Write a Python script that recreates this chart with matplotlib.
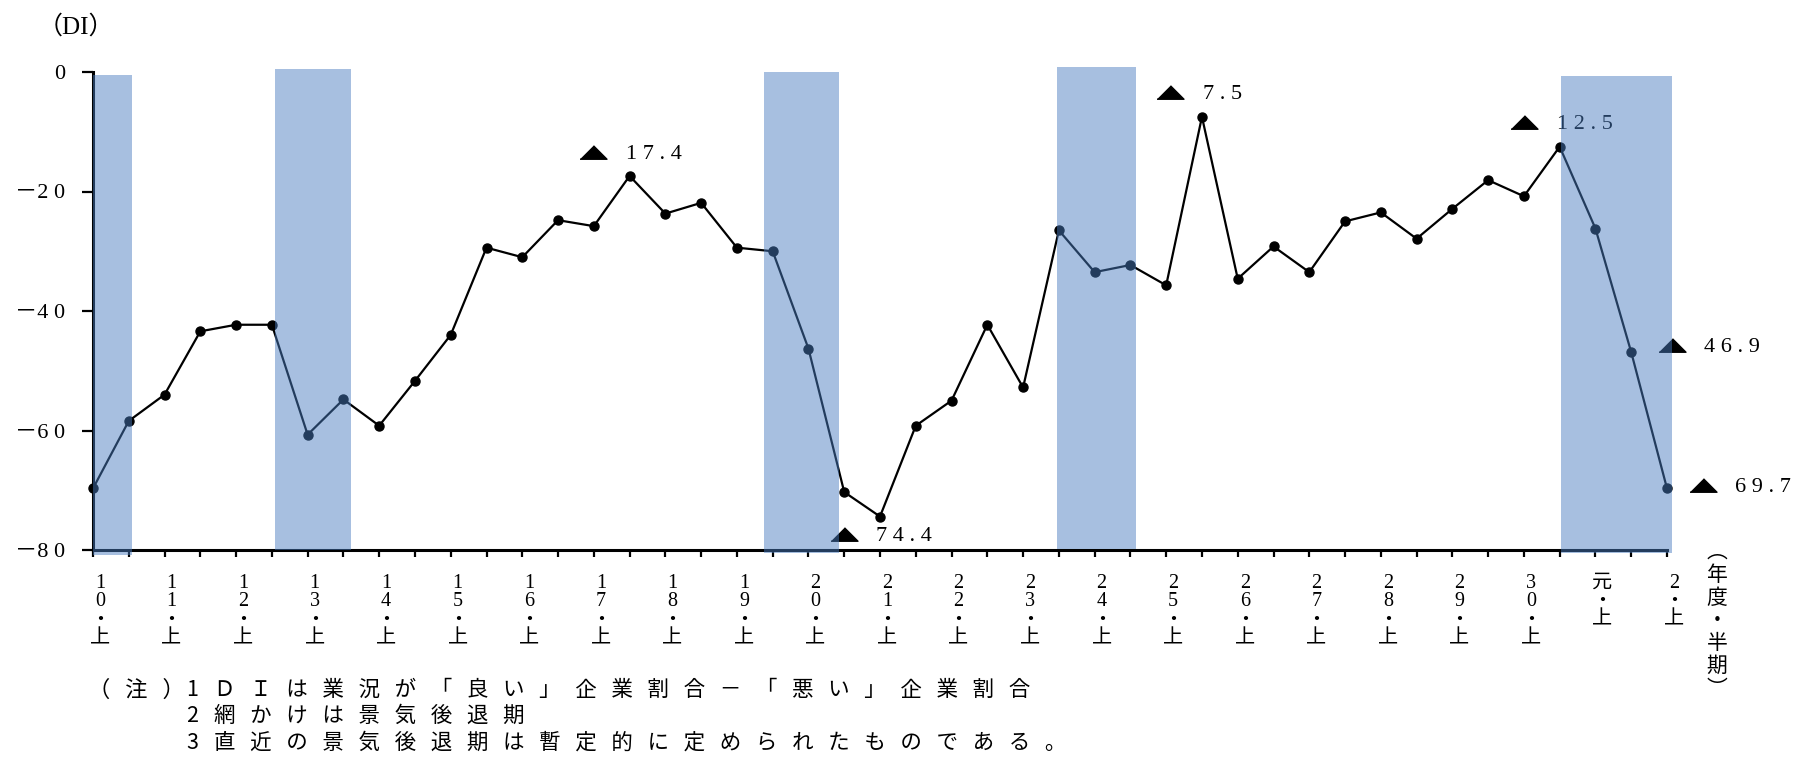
import numpy as np
import matplotlib
matplotlib.use("Agg")
import matplotlib.pyplot as plt
from matplotlib.transforms import ScaledTranslation

plt.rcParams['font.family'] = ['Noto Sans CJK JP', 'DejaVu Sans']
SERIF = ['Liberation Serif', 'Noto Sans CJK JP', 'DejaVu Sans']

# 年度（平成10年度～令和2年度）と半期
years = ["10", "11", "12", "13", "14", "15", "16", "17", "18", "19", "20",
         "21", "22", "23", "24", "25", "26", "27", "28", "29", "30", "元", "2"]
halves = ["上", "下"]

# 業況判断DI（上期・下期）
di = [-69.7, -58.4, -54.0, -43.4, -42.3, -42.3, -60.7, -54.8, -59.2, -51.7,
      -44.0, -29.4, -31.0, -24.8, -25.8, -17.4, -23.7, -21.9, -29.4, -30.0,
      -46.3, -70.3, -74.4, -59.2, -55.0, -42.3, -52.8, -26.5, -33.5, -32.3,
      -35.7, -7.5, -34.6, -29.2, -33.5, -25.0, -23.5, -27.9, -22.9, -18.1,
      -20.8, -12.5, -26.2, -46.9, -69.7]

# 景気後退期（半期単位の位置）
recessions = [(0.0, 1.1), (5.1, 7.2), (18.75, 20.85), (26.95, 29.15), (41.05, 44.15)]
recession_tops = [-0.5, 0.5, 0.0, 0.8, -0.7]
recession_bottoms = [-80.8, -80.0, -80.5, -79.8, -80.5]

# 数値を表示する点と、▲の中心のずれ（px）
labelled = [15, 22, 31, 41, 43, 44]
label_offsets = [(-36.5, 24), (-36.5, -17), (-31.5, 24.5), (-35.5, 25), (40.5, 7.5), (35.5, 3)]

notes = [("1", "ＤＩは業況が「良い」企業割合－「悪い」企業割合"),
         ("2", "網かけは景気後退期"),
         ("3", "直近の景気後退期は暫定的に定められたものである。")]


def spaced(s, gap=" "):
    return gap.join(s)


periods = [(y, h) for y in years for h in halves][:len(di)]
x = np.arange(len(di))

fig = plt.figure(figsize=(18, 7.63), dpi=100)
ax = fig.add_axes([93 / 1800, 1 - 550 / 763, 1574 / 1800, 478 / 763])

ax.plot(x, di, color='black', lw=1.6, marker='o', ms=6.5, zorder=3, clip_on=False)

for (x0, x1), top, bot in zip(recessions, recession_tops, recession_bottoms):
    ax.fill_between([x0, x1], bot, top, color='#4a7dc1', alpha=0.486, lw=0,
                    zorder=5, clip_on=False)

# ▲付きの数値ラベル
tri = [(-1, -0.5), (1, -0.5), (0, 0.5)]
for i, (dx, dy) in zip(labelled, label_offsets):
    tr = ax.transData + ScaledTranslation(dx / 100, dy / 100, fig.dpi_scale_trans)
    ax.plot([x[i]], [di[i]], ls='none', marker=tri, ms=19.4, color='black',
            transform=tr, clip_on=False, zorder=4)
    ax.annotate(spaced(f"{abs(di[i]):.1f}"), xy=(x[i], di[i]),
                xytext=((dx + 32.5) * 0.72, (dy - 7) * 0.72), textcoords='offset points',
                ha='left', va='baseline', fontsize=16, family=SERIF,
                zorder=4, annotation_clip=False)

ax.set_xlim(0, len(di) - 1)
ax.set_ylim(-80, 0)
for side in ['top', 'right']:
    ax.spines[side].set_visible(False)
for side in ['left', 'bottom']:
    ax.spines[side].set_linewidth(2.2)

yt = np.arange(-80, 1, 20)
ax.set_yticks(yt)
ax.set_yticklabels(["－" + spaced(str(abs(v))) if v < 0 else "0" for v in yt],
                   fontsize=16, family=SERIF)
ax.tick_params(axis='y', length=8, width=1.6, pad=12)

xlabels = ["\n".join(list(y) + ["・", h]) if h == "上" else "" for y, h in periods]
ax.set_xticks(x)
ax.set_xticklabels(xlabels, fontsize=14.5, family=SERIF, linespacing=0.97, va='top')
ax.tick_params(axis='x', length=5, width=1.6, pad=12)
shift = ScaledTranslation(7 / 100, 0, fig.dpi_scale_trans)
for lbl in ax.get_xticklabels():
    lbl.set_transform(lbl.get_transform() + shift)

fig.text(1717 / 1800, 1 - 541 / 763, "\n".join("︵年度・半期︶"), ha='center', va='top',
         fontsize=15, linespacing=1.05)

fig.text(38 / 1800, 1 - 27 / 763, "（DI）", ha='left', va='center', fontsize=18, family=SERIF)

# 注記
note_y = [690, 716, 743]
fig.text(88 / 1800, 1 - note_y[0] / 763, spaced("（注）", "   "), ha='left', va='center',
         fontsize=16)
for (num, txt), yy in zip(notes, note_y):
    fig.text(186 / 1800, 1 - yy / 763, num, ha='left', va='center', fontsize=15.5)
    fig.text(214 / 1800, 1 - yy / 763, spaced(txt, "   "),
             ha='left', va='center', fontsize=15.5)

fig.savefig("out.png", dpi=100)
